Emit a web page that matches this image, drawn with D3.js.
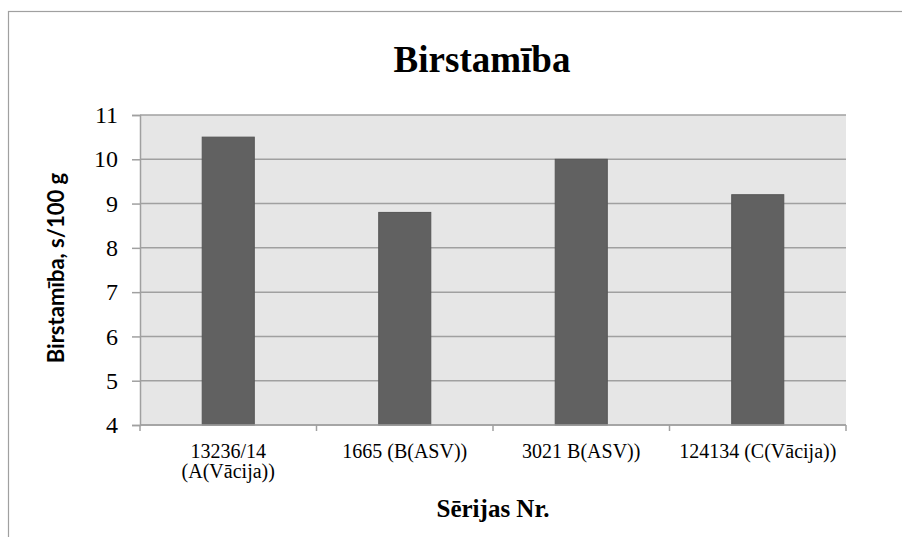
<!DOCTYPE html>
<html>
<head>
<meta charset="utf-8">
<script src="https://cdn.jsdelivr.net/npm/d3@7"></script>
<style>
  html, body { margin: 0; padding: 0; background: #ffffff; }
  svg { display: block; }
  .serif { font-family: "Liberation Serif", "Times New Roman", serif; }
</style>
</head>
<body>
<svg id="chart" width="902" height="537"></svg>
<script>
const title = "Birstamība";
const xTitle = "Sērijas Nr.";
const yTitle = "Birstamība, s/100 g";
const categories = ["13236/14 (A(Vācija))", "1665 (B(ASV))", "3021 B(ASV))", "124134 (C(Vācija))"];
const values = [10.5, 8.8, 10.0, 9.2];
const yTicks = [4, 5, 6, 7, 8, 9, 10, 11];

const svg = d3.select("#chart");
const serif = '"Liberation Serif", "Times New Roman", serif';
const sans = 'Lato, "Liberation Sans", sans-serif';

const plot = { left: 140, right: 846, top: 115, bottom: 425 };

// outer chart border (extends beyond the visible window)
svg.append("rect")
  .attr("x", 8.5).attr("y", 11.5)
  .attr("width", 1000).attr("height", 1000)
  .attr("fill", "#ffffff")
  .attr("stroke", "#a0a0a0").attr("stroke-width", 1.2);

const x = d3.scaleBand()
  .domain(categories)
  .range([plot.left, plot.right])
  .paddingInner(0.705)
  .paddingOuter(0.3525);

const y = d3.scaleLinear()
  .domain([d3.min(yTicks), d3.max(yTicks)])
  .range([plot.bottom, plot.top]);

// plot background
svg.append("rect")
  .attr("x", plot.left).attr("y", plot.top)
  .attr("width", plot.right - plot.left)
  .attr("height", plot.bottom - plot.top)
  .attr("fill", "#e6e6e6");

// gridlines
svg.append("g")
  .selectAll("line")
  .data(yTicks)
  .join("line")
  .attr("x1", plot.left).attr("x2", plot.right)
  .attr("y1", d => y(d)).attr("y2", d => y(d))
  .attr("stroke", "#a0a0a0").attr("stroke-width", 1.5);

// y axis
const yAxis = svg.append("g")
  .attr("transform", `translate(${plot.left},0)`)
  .call(d3.axisLeft(y).tickValues(yTicks).tickSize(8).tickPadding(14).tickFormat(d3.format("d")));
yAxis.attr("font-family", null).attr("font-size", null);
yAxis.select(".domain").attr("stroke", "#a0a0a0").attr("stroke-width", 1.5);
yAxis.selectAll(".tick line").attr("stroke", "#a0a0a0").attr("stroke-width", 1.5);
yAxis.selectAll(".tick text")
  .attr("class", "serif")
  .style("font-family", serif).style("font-size", "24px").attr("fill", "#000");

// bars
svg.append("g")
  .selectAll("rect")
  .data(categories.map((c, i) => ({ c, v: values[i] })))
  .join("rect")
  .attr("x", d => x(d.c))
  .attr("y", d => y(d.v))
  .attr("width", x.bandwidth())
  .attr("height", d => y(y.domain()[0]) - y(d.v))
  .attr("fill", "#616161")
  .attr("stroke", "#555555").attr("stroke-width", 1);

// x axis line and category ticks
svg.append("line")
  .attr("x1", plot.left).attr("x2", plot.right)
  .attr("y1", plot.bottom).attr("y2", plot.bottom)
  .attr("stroke", "#a0a0a0").attr("stroke-width", 1.5);

const step = x.step();
const boundaries = d3.range(categories.length + 1).map(i => plot.left + i * step);
svg.append("g").selectAll("line")
  .data(boundaries)
  .join("line")
  .attr("x1", d => d).attr("x2", d => d)
  .attr("y1", plot.bottom).attr("y2", plot.bottom + 6)
  .attr("stroke", "#a0a0a0").attr("stroke-width", 1.5);

// category labels with wrapping
const labelG = svg.append("g");
categories.forEach(c => {
  const cx = x(c) + x.bandwidth() / 2;
  const t = labelG.append("text")
    .attr("x", cx).attr("y", 458)
    .attr("text-anchor", "middle")
    .attr("class", "serif")
    .style("font-family", serif).style("font-size", "20px").attr("fill", "#000");
  t.text(c);
  if (t.node().getComputedTextLength() > step - 4) {
    const words = c.split(" ");
    t.text(null);
    words.forEach((w, i) => {
      t.append("tspan").attr("x", cx).attr("dy", i === 0 ? 0 : 20).text(w);
    });
  }
});

// title
svg.append("text")
  .attr("x", 482).attr("y", 72)
  .attr("text-anchor", "middle")
  .style("font-family", serif).style("font-weight", "bold").style("font-size", "37px")
  .text(title);

// x title
svg.append("text")
  .attr("x", 493).attr("y", 517)
  .attr("text-anchor", "middle")
  .style("font-family", serif).style("font-weight", "bold").style("font-size", "25px")
  .text(xTitle);

// y title
svg.append("text")
  .attr("transform", "translate(64,268) rotate(-90)")
  .attr("text-anchor", "middle")
  .style("font-family", sans).style("font-weight", "bold").style("font-size", "22px")
  .text(yTitle);
</script>
</body>
</html>
